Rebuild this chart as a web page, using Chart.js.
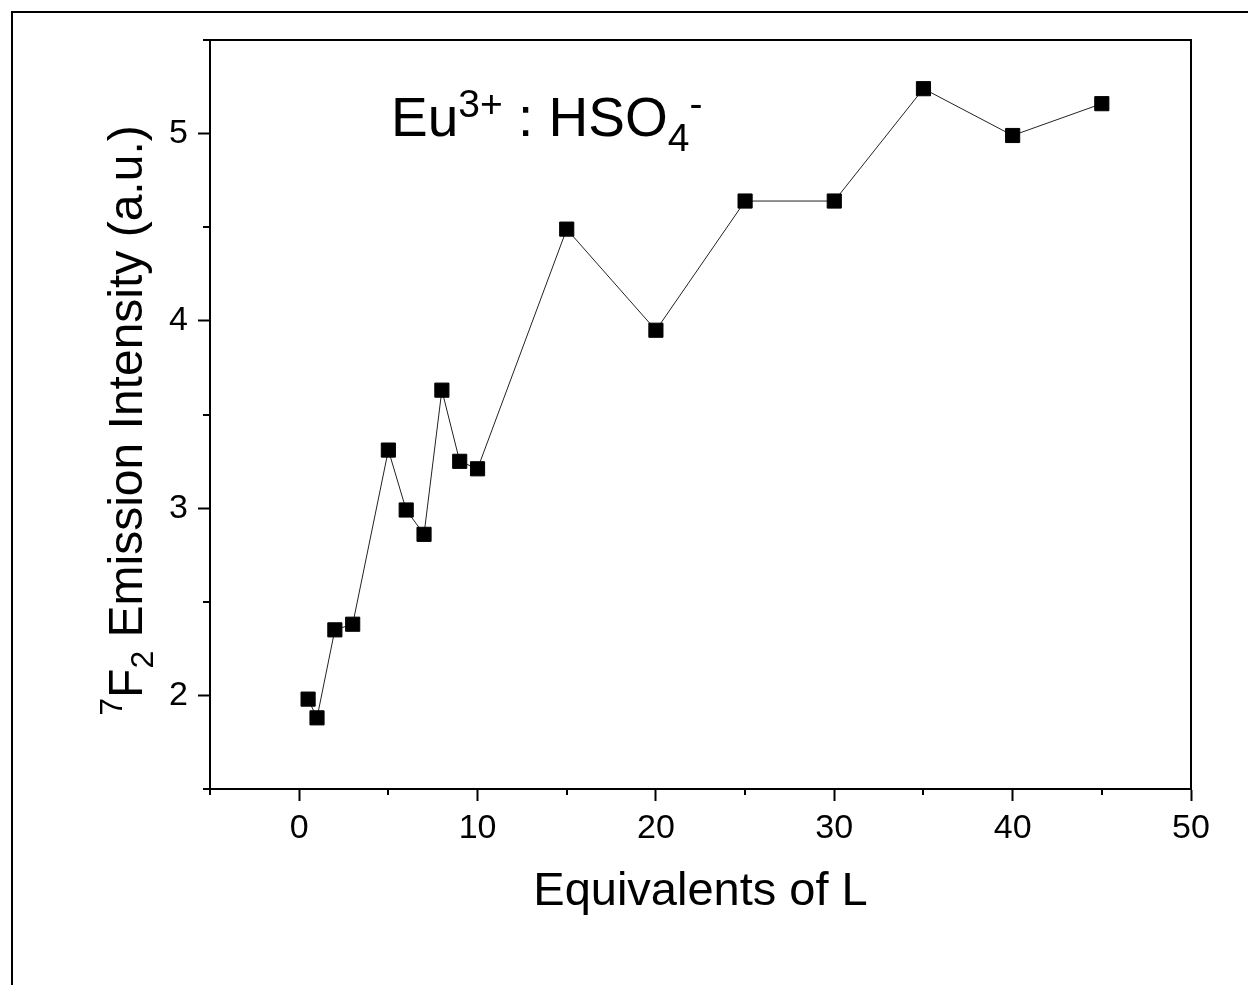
<!DOCTYPE html>
<html><head><meta charset="utf-8">
<script src="https://cdn.jsdelivr.net/npm/chart.js@4"></script>
<style>html,body{margin:0;padding:0;background:#fff;} #wrap{width:1248px;height:985px;position:relative;}</style>
</head><body><div id="wrap"><canvas id="c" width="1248" height="985" style="width:1248px;height:985px;"></canvas></div>
<script>
const equivalents = [0.5, 1, 2, 3, 5, 6, 7, 8, 9, 10, 15, 20, 25, 30, 35, 40, 45];
const intensity = [1.98, 1.88, 2.35, 2.38, 3.31, 2.99, 2.86, 3.63, 3.25, 3.21, 4.49, 3.95, 4.64, 4.64, 5.24, 4.99, 5.16];
const xMajorTicks = [0, 10, 20, 30, 40, 50];
const xMinorTicks = [-5, 5, 15, 25, 35, 45];
const yMajorTicks = [2, 3, 4, 5];
const yMinorTicks = [1.5, 2.5, 3.5, 4.5, 5.5];
const xTitle = [{text: 'Equivalents of L'}];
const yTitle = [{text: '7', pos: 'sup'}, {text: 'F'}, {text: '2', pos: 'sub'}, {text: ' Emission Intensity (a.u.)'}];
const annotation = [{text: 'Eu'}, {text: '3+', pos: 'sup'}, {text: ' : HSO'}, {text: '4', pos: 'sub'}, {text: '-', pos: 'sup'}];

const FAMILY = '"Liberation Sans", Arial, sans-serif';

function richWidth(ctx, segs, base, small) {
  let w = 0;
  for (const s of segs) {
    ctx.font = (s.pos ? small : base) + 'px ' + FAMILY;
    w += ctx.measureText(s.text).width;
  }
  return w;
}
function drawRich(ctx, segs, x, y, base, small, rise, drop) {
  let cx = x;
  ctx.textBaseline = 'alphabetic';
  ctx.textAlign = 'left';
  for (const s of segs) {
    ctx.font = (s.pos ? small : base) + 'px ' + FAMILY;
    let yy = y;
    if (s.pos === 'sup') yy = y - rise;
    if (s.pos === 'sub') yy = y + drop;
    ctx.fillText(s.text, cx, yy);
    cx += ctx.measureText(s.text).width;
  }
}

const decor = {
  id: 'decor',
  afterDraw(chart) {
    const ctx = chart.ctx;
    const a = chart.chartArea;
    const xs = chart.scales.x, ys = chart.scales.y;
    ctx.save();
    ctx.fillStyle = '#000';
    ctx.strokeStyle = '#000';
    // outer frame (top & left)
    ctx.fillRect(11, 11, 1237, 2);
    ctx.fillRect(11, 11, 2, 974);
    // plot box top & right
    ctx.lineWidth = 2;
    ctx.beginPath();
    ctx.moveTo(a.left - 1, a.top);
    ctx.lineTo(a.right, a.top);
    ctx.lineTo(a.right, a.bottom + 1);
    ctx.stroke();
    // minor ticks
    ctx.beginPath();
    for (const v of xMinorTicks) {
      const px = Math.round(xs.getPixelForValue(v));
      ctx.moveTo(px, a.bottom);
      ctx.lineTo(px, a.bottom + 6);
    }
    for (const v of yMinorTicks) {
      const py = Math.round(ys.getPixelForValue(v));
      ctx.moveTo(a.left, py);
      ctx.lineTo(a.left - 7, py);
    }
    ctx.stroke();
    // x title
    const cxm = (a.left + a.right) / 2;
    const wx = richWidth(ctx, xTitle, 47, 30);
    drawRich(ctx, xTitle, cxm - wx / 2, 905, 47, 30, 0, 0);
    // y title
    const cym = (a.top + a.bottom) / 2 + 6;
    ctx.save();
    ctx.translate(142, cym);
    ctx.rotate(-Math.PI / 2);
    const wy = richWidth(ctx, yTitle, 48, 32);
    drawRich(ctx, yTitle, -wy / 2, 0, 48, 32, 20, 11);
    ctx.restore();
    // annotation
    drawRich(ctx, annotation, a.left + 181, a.top + 96, 55, 39, 19, 15);
    ctx.restore();
  }
};

new Chart(document.getElementById('c'), {
  type: 'scatter',
  data: {
    datasets: [{
      data: equivalents.map((x, i) => ({x, y: intensity[i]})),
      showLine: true,
      borderColor: '#222',
      borderWidth: 1,
      pointStyle: 'rect',
      pointRadius: 10,
      pointHoverRadius: 10,
      pointBackgroundColor: '#000',
      pointBorderColor: '#000',
      pointBorderWidth: 1
    }]
  },
  options: {
    responsive: false,
    animation: false,
    events: [],
    layout: {padding: {top: 40, right: 57, left: 0, bottom: 0}},
    plugins: {legend: {display: false}, tooltip: {enabled: false}},
    scales: {
      x: {
        type: 'linear', min: -5, max: 50,
        afterBuildTicks: s => { s.ticks = xMajorTicks.map(v => ({value: v})); },
        afterFit: s => { s.height = 196; },
        grid: {display: true, drawOnChartArea: false, drawTicks: true, tickLength: 12, tickWidth: 2, tickColor: '#000'},
        border: {display: true, color: '#000', width: 2},
        ticks: {color: '#000', font: {family: FAMILY, size: 34}, padding: 7, maxRotation: 0, autoSkip: false}
      },
      y: {
        type: 'linear', min: 1.5, max: 5.5,
        afterBuildTicks: s => { s.ticks = yMajorTicks.map(v => ({value: v})); },
        afterFit: s => { s.width = 210; },
        grid: {display: true, drawOnChartArea: false, drawTicks: true, tickLength: 12, tickWidth: 2, tickColor: '#000'},
        border: {display: true, color: '#000', width: 2},
        ticks: {color: '#000', font: {family: FAMILY, size: 34}, padding: 10, autoSkip: false}
      }
    }
  },
  plugins: [decor]
});
</script>
</body></html>
